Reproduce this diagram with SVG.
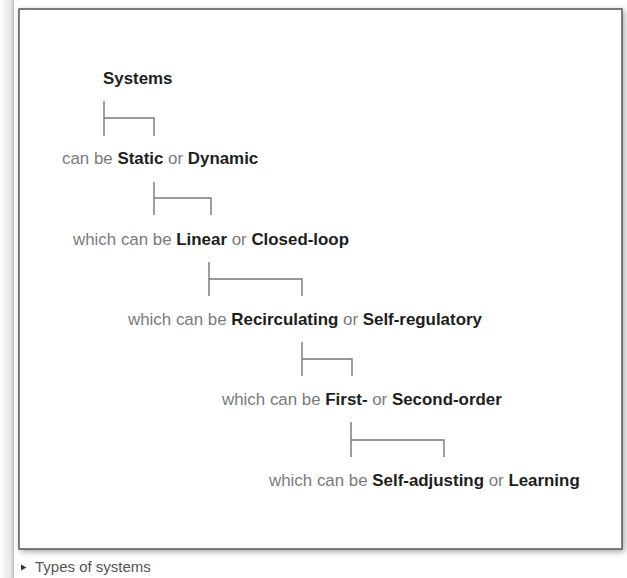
<svg xmlns="http://www.w3.org/2000/svg" width="627" height="578" viewBox="0 0 627 578">
  <defs>
    <filter id="shadow" x="-5%" y="-5%" width="110%" height="110%">
      <feDropShadow dx="2" dy="2" stdDeviation="3" flood-color="#000" flood-opacity="0.35"/>
    </filter>
    <linearGradient id="edge" x1="0" y1="0" x2="1" y2="0">
      <stop offset="0" stop-color="#fff"/>
      <stop offset="0.75" stop-color="#e6e6e6"/>
      <stop offset="1" stop-color="#bdbdbd"/>
    </linearGradient>
    <style>
      text { font-family: "Liberation Sans", Arial, sans-serif; font-size: 16.9px; }
      .g { fill: #7a7a7a; }
      .b { fill: #1e1e1e; font-weight: bold; }
      .conn { fill: none; stroke: #777; stroke-width: 1.4; }
      .cap { font-size: 15px; fill: #555; }
    </style>
  </defs>
  <rect x="0" y="0" width="627" height="578" fill="#fff"/>
  <rect x="0" y="0" width="14" height="578" fill="url(#edge)"/>
  <g id="frame">
    <rect x="19" y="9" width="603" height="540" fill="#fff" stroke="#555" stroke-width="1.5" filter="url(#shadow)"/>
  </g>
  <g id="connectors" class="conn">
    <path d="M104,101 V136 M104,118 H154 V136"/>
    <path d="M154,182 V215 M154,198 H211 V215"/>
    <path d="M209,262 V296 M209,279 H302 V296"/>
    <path d="M302,342 V376 M302,359 H352 V376"/>
    <path d="M351,422 V457 M351,440 H444 V457"/>
  </g>
  <g id="n0"><text x="103" y="84" class="b">Systems</text></g>
  <g id="n1"><text x="62" y="164"><tspan class="g">can be </tspan><tspan class="b">Static</tspan><tspan class="g"> or </tspan><tspan class="b">Dynamic</tspan></text></g>
  <g id="n2"><text x="73" y="245"><tspan class="g">which can be </tspan><tspan class="b">Linear</tspan><tspan class="g"> or </tspan><tspan class="b">Closed-loop</tspan></text></g>
  <g id="n3"><text x="128" y="325"><tspan class="g">which can be </tspan><tspan class="b">Recirculating</tspan><tspan class="g"> or </tspan><tspan class="b">Self-regulatory</tspan></text></g>
  <g id="n4"><text x="222" y="405"><tspan class="g">which can be </tspan><tspan class="b">First-</tspan><tspan class="g"> or </tspan><tspan class="b">Second-order</tspan></text></g>
  <g id="n5"><text x="269" y="486"><tspan class="g">which can be </tspan><tspan class="b">Self-adjusting</tspan><tspan class="g"> or </tspan><tspan class="b">Learning</tspan></text></g>
  <g id="caption">
    <polygon points="21,564.5 26.5,567.5 21,570.5" fill="#333"/>
    <text x="35" y="572" class="cap">Types of systems</text>
  </g>
</svg>
